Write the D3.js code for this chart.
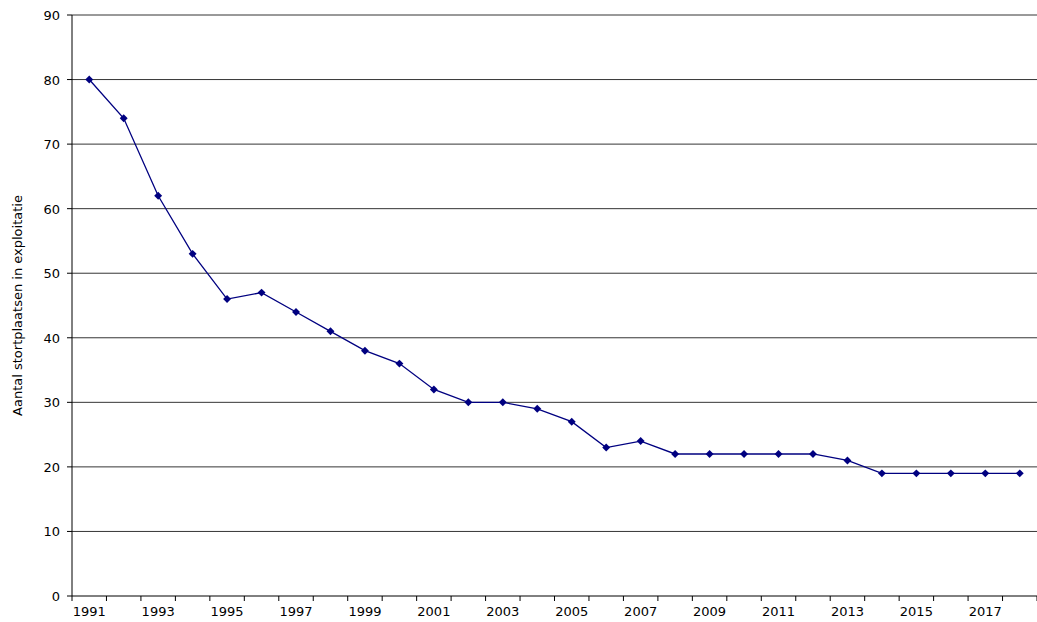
<!DOCTYPE html><html><head><meta charset="utf-8"><script src="https://cdn.jsdelivr.net/npm/d3@7"></script>
<style>body{margin:0;background:#fff}text{font-family:Verdana,"DejaVu Sans",sans-serif;font-size:13px;fill:#000}</style></head><body><svg width="1037" height="622"></svg><script>
const years=d3.range(1991,2019).map(String);
const values=[80,74,62,53,46,47,44,41,38,36,32,30,30,29,27,23,24,22,22,22,22,22,21,19,19,19,19,19];
const yTicks=[0,10,20,30,40,50,60,70,80,90];
const svg=d3.select("svg");
const L=72,R=1037,T=15,B=596;
const x=d3.scaleBand().domain(years).range([L,R]);
const y=d3.scaleLinear().domain([0,90]).range([B,T]);
svg.append("g").selectAll("line").data(yTicks.slice(1)).join("line").attr("x1",L).attr("x2",R).attr("y1",d=>y(d)).attr("y2",d=>y(d)).attr("stroke","#000").attr("stroke-width",0.8);
svg.append("line").attr("x1",L).attr("x2",L).attr("y1",T).attr("y2",B).attr("stroke","#000");
svg.append("line").attr("x1",L).attr("x2",R).attr("y1",B).attr("y2",B).attr("stroke","#000");
svg.append("g").selectAll("line").data(yTicks).join("line").attr("x1",L-5).attr("x2",L).attr("y1",d=>y(d)).attr("y2",d=>y(d)).attr("stroke","#000");
svg.append("g").selectAll("text").data(yTicks).join("text").attr("x",L-12).attr("y",d=>y(d)+5).attr("text-anchor","end").text(d=>d);
svg.append("g").selectAll("line").data(years.concat(["end"])).join("line").attr("x1",(d,i)=>L+i*x.bandwidth()).attr("x2",(d,i)=>L+i*x.bandwidth()).attr("y1",B).attr("y2",B+5).attr("stroke","#000");
svg.append("g").selectAll("text").data(years.filter((d,i)=>i%2==0)).join("text").attr("x",d=>x(d)+x.bandwidth()/2).attr("y",B+20).attr("text-anchor","middle").text(d=>d);
svg.append("text").attr("transform",`translate(22,${(T+B)/2}) rotate(-90)`).attr("text-anchor","middle").text("Aantal stortplaatsen in exploitatie");
const line=d3.line().x((d,i)=>x(years[i])+x.bandwidth()/2).y(d=>y(d));
svg.append("path").datum(values).attr("d",line).attr("fill","none").attr("stroke","#000080").attr("stroke-width",1.3);
svg.append("g").selectAll("path").data(values).join("path").attr("d",d3.symbol(d3.symbolDiamond2,40)).attr("transform",(d,i)=>`translate(${x(years[i])+x.bandwidth()/2},${y(d)})`).attr("fill","#000080");
</script></body></html>
